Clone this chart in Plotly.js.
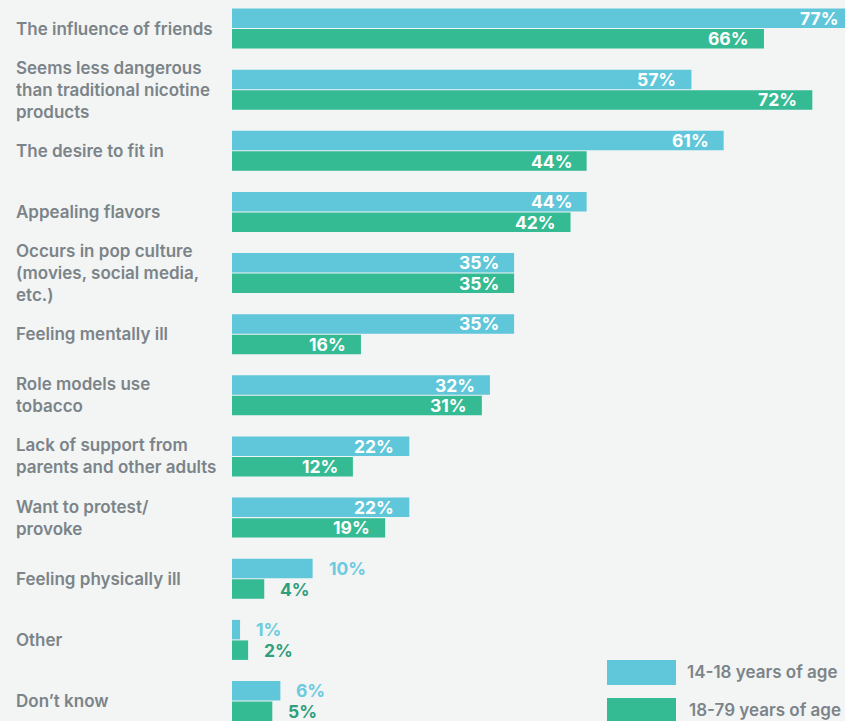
<!DOCTYPE html>
<html>
<head>
<meta charset="utf-8">
<script src="https://cdn.plot.ly/plotly-3.0.1.min.js"></script>
<style>
html,body{margin:0;padding:0;background:#f3f4f4;overflow:hidden;}
#chart{width:870px;height:721px;}
</style>
</head>
<body>
<div id="chart"></div>
<script>
// ---- data ----
const categories = [
  "The influence of friends",
  "Seems less dangerous than traditional nicotine products",
  "The desire to fit in",
  "Appealing flavors",
  "Occurs in pop culture (movies, social media, etc.)",
  "Feeling mentally ill",
  "Role models use tobacco",
  "Lack of support from parents and other adults",
  "Want to protest/ provoke",
  "Feeling physically ill",
  "Other",
  "Don\u2019t know"
];
const categoryLabels = [
  "The influence of friends",
  "Seems less dangerous<br>than traditional nicotine<br>products",
  "The desire to fit in",
  "Appealing flavors",
  "Occurs in pop culture<br>(movies, social media,<br>etc.)",
  "Feeling mentally ill",
  "Role models use<br>tobacco",
  "Lack of support from<br>parents and other adults",
  "Want to protest/<br>provoke",
  "Feeling physically ill",
  "Other",
  "Don\u2019t know"
];
const seriesNames = ["14-18 years of age", "18-79 years of age"];
// printed percentages
const youth = [77, 57, 61, 44, 35, 35, 32, 22, 22, 10, 1, 6];
const adults = [66, 72, 44, 42, 35, 16, 31, 12, 19, 4, 2, 5];
// bar lengths as drawn in the source (the "12%" bar is drawn at about 15%)
const youthBars = [77, 57, 61, 44, 35, 35, 32, 22, 22, 10, 1, 6];
const adultsBars = [66, 72, 44, 42, 35, 16, 31, 15, 19, 4, 2, 5];

// ---- styles ----
const colors = ["#5fc7d9", "#35bb94"];
const outsideColors = ["#6dcbe0", "#2f9f7e"];
const textGray = "#7b8489";
const FONT = "Inter, 'Open Sans', sans-serif";

const W = 870, H = 721, L = 232;
const plotW = W - L;
const pxPerUnit = 8.06;
const xMax = plotW / pxPerUnit;
const slot = 61.14;
const firstCenter = 28.5;
const yTop = -firstCenter / slot;
const yBottom = yTop + H / slot;

const barSets = [youthBars, adultsBars];
const labelSets = [youth, adults];

const traces = barSets.map((vals, i) => ({
  type: "bar",
  orientation: "h",
  name: seriesNames[i],
  x: vals,
  y: categories,
  marker: {color: colors[i], line: {width: 0}},
  hoverinfo: "x+y",
  showlegend: false
}));

const annotations = [];
categories.forEach((c, k) => {
  annotations.push({
    xref: "paper", yref: "y",
    x: (14 - L) / plotW, y: c,
    xanchor: "left", yanchor: "middle", align: "left",
    text: categoryLabels[k], showarrow: false,
    font: {family: FONT, size: 17, weight: 600, color: textGray}
  });
});
barSets.forEach((vals, i) => {
  vals.forEach((v, k) => {
    const inside = labelSets[i][k] >= 12;
    annotations.push({
      xref: "x", yref: "y",
      x: v, y: categories[k],
      xanchor: inside ? "right" : "left", yanchor: "middle",
      xshift: inside ? -13 : 14,
      yshift: i === 0 ? 10.25 : -10.25,
      text: labelSets[i][k] + "%", showarrow: false,
      font: {family: FONT, size: 17.5, weight: 700, color: inside ? "#ffffff" : outsideColors[i]}
    });
  });
});

// legend built from shapes + text
const shapes = [];
const legendRows = [{y0: 660, y1: 685, ty: 672, tx: 685}, {y0: 698, y1: 723, ty: 710, tx: 687}];
seriesNames.forEach((n, i) => {
  const r = legendRows[i];
  shapes.push({
    type: "rect", xref: "paper", yref: "paper",
    x0: (607 - L) / plotW, x1: (676 - L) / plotW,
    y0: 1 - r.y1 / H, y1: 1 - r.y0 / H,
    fillcolor: colors[i], line: {width: 0}, layer: "above"
  });
  annotations.push({
    xref: "paper", yref: "paper",
    x: (r.tx - L) / plotW, y: 1 - r.ty / H,
    xanchor: "left", yanchor: "middle",
    text: n, showarrow: false,
    font: {family: FONT, size: 17, weight: 600, color: textGray}
  });
});

const layout = {
  width: W, height: H,
  margin: {l: L, r: 0, t: 0, b: 0, pad: 0},
  paper_bgcolor: "#f3f4f4",
  plot_bgcolor: "#f3f4f4",
  barmode: "group",
  bargap: 0.329,
  bargroupgap: 0.05,
  xaxis: {range: [0, xMax], showgrid: false, zeroline: false, showticklabels: false, showline: false, ticks: "", fixedrange: true},
  yaxis: {type: "category", range: [yBottom, yTop], showgrid: false, zeroline: false, showticklabels: false, showline: false, ticks: "", fixedrange: true},
  annotations: annotations,
  shapes: shapes,
  showlegend: false,
  font: {family: FONT}
};

Plotly.newPlot("chart", traces, layout, {displayModeBar: false, staticPlot: true});
</script>
</body>
</html>
